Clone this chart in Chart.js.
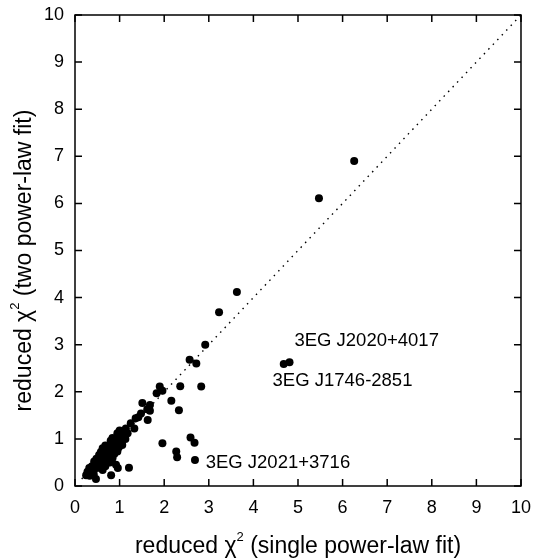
<!DOCTYPE html>
<html>
<head>
<meta charset="UTF-8">
<title>reduced chi2 comparison</title>
<script src="https://cdn.jsdelivr.net/npm/chart.js"></script>
<style>
  body { margin: 0; background: #ffffff; }
  #wrap { width: 534px; height: 560px; }
</style>
</head>
<body>
<div id="wrap"><canvas id="chart" width="534" height="560"></canvas></div>
<script>
// reduced chi^2, single power-law fit (x) vs two power-law fit (y)
const singleFit = [
  0.25, 0.28, 0.33, 0.38, 0.42,
  0.32, 0.38, 0.44, 0.50, 0.56, 0.62, 0.68,
  0.43, 0.48, 0.55, 0.60, 0.66, 0.72, 0.78, 0.84,
  0.54, 0.58, 0.64, 0.70, 0.75, 0.80, 0.88, 0.95,
  0.62, 0.68, 0.74, 0.80, 0.86, 0.92, 0.98, 1.06,
  0.80, 0.84, 0.90, 0.96, 1.02, 1.08, 1.13,
  0.95, 1.00, 1.06, 1.12, 1.18,
  1.14, 1.25, 1.33, 1.36,
  0.92, 0.96, 1.21, 0.81, 0.47,
  1.42, 1.48, 1.51, 1.62, 1.63, 1.68, 1.68, 1.83, 1.90, 1.96, 1.96, 2.16, 2.33, 2.36,
  2.27, 2.29, 2.59, 2.68, 2.69, 2.57, 2.72, 2.83, 2.92, 3.23, 3.63, 4.68, 4.81, 5.47, 6.26
];
const twoFit = [
  0.23, 0.30, 0.22, 0.28, 0.25,
  0.38, 0.42, 0.36, 0.44, 0.38, 0.34, 0.42,
  0.52, 0.58, 0.50, 0.56, 0.52, 0.58, 0.50, 0.59,
  0.66, 0.72, 0.68, 0.74, 0.66, 0.72, 0.68, 0.73,
  0.80, 0.86, 0.82, 0.88, 0.80, 0.86, 0.82, 0.87,
  0.96, 1.02, 0.98, 1.04, 0.96, 1.02, 1.00,
  1.12, 1.18, 1.10, 1.16, 1.12,
  1.22, 1.33, 1.22, 1.44,
  0.45, 0.38, 0.39, 0.23, 0.15,
  1.46, 1.54, 1.76, 1.63, 1.40, 1.72, 1.60, 1.97, 2.11, 2.02, 0.91, 1.81, 1.61, 2.12,
  0.73, 0.61, 1.03, 0.92, 0.55, 2.68, 2.60, 2.11, 3.00, 3.69, 4.12, 2.59, 2.63, 6.11, 6.90
];
const equalLine = [0.15, 10];
const axisTicks = [0, 1, 2, 3, 4, 5, 6, 7, 8, 9, 10];
const labelNames = ['3EG J2020+4017', '3EG J1746-2851', '3EG J2021+3716'];
const labelX = [4.92, 4.43, 2.93];
const labelY = [3.09, 2.23, 0.5];

const points = singleFit.map((x, i) => ({ x: x, y: twoFit[i] }));
const FONT = '"Liberation Sans", Arial, sans-serif';

const frame = {
  id: 'frame',
  afterDraw(chart) {
    const c = chart.ctx, a = chart.chartArea;
    const xs = chart.scales.x, ys = chart.scales.y;
    c.save();
    c.strokeStyle = '#000';
    c.lineWidth = 1.5;
    c.strokeRect(a.left, a.top, a.right - a.left, a.bottom - a.top);
    c.beginPath();
    axisTicks.forEach(t => {
      const px = xs.getPixelForValue(t), py = ys.getPixelForValue(t);
      c.moveTo(px, a.bottom); c.lineTo(px, a.bottom - 7);
      c.moveTo(px, a.top); c.lineTo(px, a.top + 7);
      c.moveTo(a.left, py); c.lineTo(a.left + 7, py);
      c.moveTo(a.right, py); c.lineTo(a.right - 7, py);
    });
    c.stroke();

    c.fillStyle = '#000';
    c.font = '18.5px ' + FONT;
    c.textBaseline = 'middle';
    c.textAlign = 'left';
    labelNames.forEach((s, i) => {
      c.fillText(s, xs.getPixelForValue(labelX[i]), ys.getPixelForValue(labelY[i]));
    });

    // axis titles with a raised 2
    const drawTitle = (pre, post) => {
      const big = '23px ' + FONT;
      const small = '13px ' + FONT;
      c.font = big; const w1 = c.measureText(pre).width;
      const w3 = c.measureText(post).width;
      c.font = small; const w2 = c.measureText('2').width;
      let x = -(w1 + w2 + w3) / 2;
      c.textAlign = 'left'; c.textBaseline = 'alphabetic';
      c.font = big; c.fillText(pre, x, 0); x += w1;
      c.font = small; c.fillText('2', x, -12); x += w2;
      c.font = big; c.fillText(post, x, 0);
    };
    c.save();
    c.translate((a.left + a.right) / 2, 553);
    drawTitle('reduced \u03c7', ' (single power-law fit)');
    c.restore();
    c.save();
    c.translate(31, (a.top + a.bottom) / 2 + 10);
    c.rotate(-Math.PI / 2);
    drawTitle('reduced \u03c7', ' (two power-law fit)');
    c.restore();
    c.restore();
  }
};

new Chart(document.getElementById('chart'), {
  type: 'scatter',
  data: {
    datasets: [
      {
        data: points,
        backgroundColor: '#000',
        borderColor: '#000',
        pointRadius: 4,
        pointBorderWidth: 0
      },
      {
        type: 'line',
        data: equalLine.map(v => ({ x: v, y: v })),
        borderColor: '#000',
        borderWidth: 1.4,
        borderDash: [1.5, 5],
        pointRadius: 0,
        fill: false
      }
    ]
  },
  options: {
    responsive: false,
    animation: false,
    layout: { padding: { left: 0, right: 5, top: 15, bottom: 0 } },
    plugins: { legend: { display: false }, tooltip: { enabled: false } },
    scales: {
      x: {
        type: 'linear', min: 0, max: 10,
        afterFit: s => { s.height = 74; },
        afterBuildTicks: s => { s.ticks = axisTicks.map(v => ({ value: v })); },
        grid: { display: false },
        border: { display: false },
        ticks: { color: '#000', padding: 3, maxRotation: 0, font: { family: FONT, size: 18 } }
      },
      y: {
        type: 'linear', min: 0, max: 10,
        afterFit: s => { s.width = 75; },
        afterBuildTicks: s => { s.ticks = axisTicks.map(v => ({ value: v })); },
        grid: { display: false },
        border: { display: false },
        ticks: { color: '#000', padding: 3, font: { family: FONT, size: 18 } }
      }
    }
  },
  plugins: [frame]
});
</script>
</body>
</html>
